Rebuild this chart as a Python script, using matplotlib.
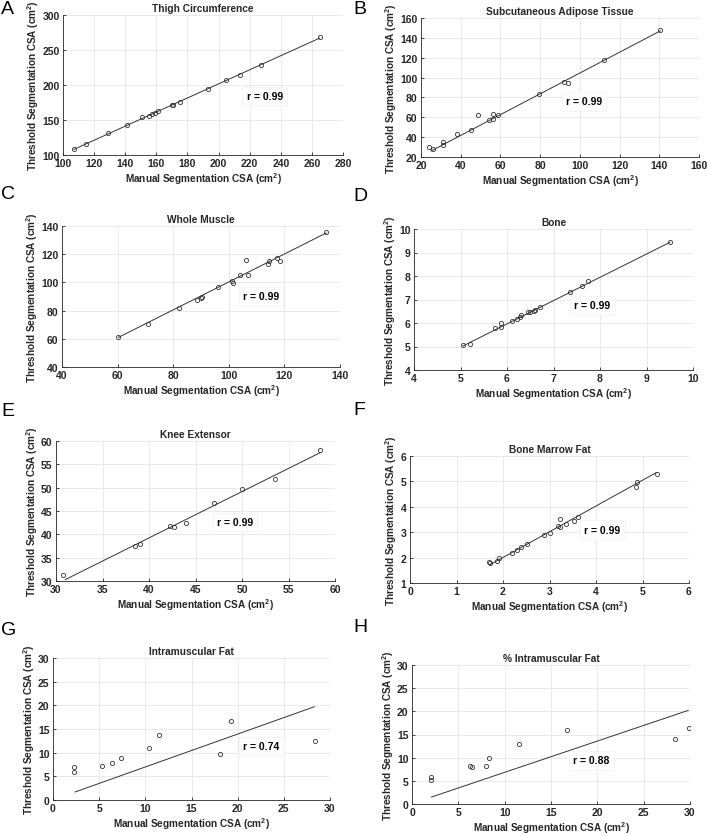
import numpy as np
import matplotlib
matplotlib.use('Agg')
from matplotlib import pyplot as plt

plt.rcParams['font.family'] = ['Liberation Sans', 'DejaVu Sans']
plt.rcParams['font.weight'] = 'bold'
plt.rcParams['mathtext.fontset'] = 'custom'
plt.rcParams['mathtext.rm'] = 'Liberation Sans:bold'
plt.rcParams['mathtext.bf'] = 'Liberation Sans:bold'

# ---- data ----
titles = ['Thigh Circumference', 'Subcutaneous Adipose Tissue', 'Whole Muscle', 'Bone',
          'Knee Extensor', 'Bone Marrow Fat', 'Intramuscular Fat', '% Intramuscular Fat']
letters = ['A', 'B', 'C', 'D', 'E', 'F', 'G', 'H']
r_labels = ['r = 0.99', 'r = 0.99', 'r = 0.99', 'r = 0.99', 'r = 0.99', 'r = 0.99', 'r = 0.74', 'r = 0.88']

thigh_x = [107, 115, 129, 141, 151, 155, 157, 159, 161, 170, 171, 175, 193, 205, 214, 227, 265]
thigh_y = [109, 116, 131, 143, 155, 156, 158, 160, 163, 171, 172, 176, 195, 207, 215, 229, 268]
thigh_fit_x = [107, 265]
thigh_fit_y = [108, 267]

sat_x = [24, 26, 31, 31, 38, 45, 48.5, 54, 56.5, 56.5, 59, 79.5, 92, 94, 112, 140.5]
sat_y = [30, 28, 32, 35, 43, 47, 62, 57, 58, 63, 62, 83, 96, 95, 118, 148]
sat_fit_x = [25, 140.5]
sat_fit_y = [26, 147]

wm_x = [60.3, 71, 82, 88.5, 90, 90.3, 96, 101, 101.5, 104, 106.2, 107, 114, 114.5, 117.5, 118.5, 135]
wm_y = [61.5, 70.5, 82, 87.5, 89, 90, 97, 101, 99.5, 105.5, 116, 105, 113, 115, 117, 115.5, 135.5]
wm_fit_x = [60.3, 135]
wm_fit_y = [61, 135]

bone_x = [5.05, 5.2, 5.75, 5.87, 5.88, 6.1, 6.22, 6.28, 6.3, 6.45, 6.5, 6.57, 6.6, 6.72, 7.35, 7.62, 7.75, 9.5]
bone_y = [5.07, 5.12, 5.77, 5.85, 5.98, 6.1, 6.18, 6.25, 6.33, 6.45, 6.47, 6.5, 6.57, 6.7, 7.3, 7.58, 7.78, 9.43]
bone_fit_x = [5.05, 9.5]
bone_fit_y = [5.02, 9.43]

knee_x = [30.8, 38.5, 39, 42.3, 42.7, 44, 47, 50, 53.6, 58.4]
knee_y = [31.2, 37.5, 38, 41.8, 41.5, 42.4, 46.8, 49.8, 51.9, 58.1]
knee_fit_x = [31, 58.4]
knee_fit_y = [30.3, 57.5]

bmf_x = [1.7, 1.72, 1.87, 1.92, 2.2, 2.3, 2.38, 2.52, 2.88, 3.02, 3.18, 3.22, 3.22, 3.35, 3.52, 3.62, 4.85, 4.88, 5.32]
bmf_y = [1.82, 1.77, 1.85, 1.98, 2.18, 2.3, 2.43, 2.55, 2.9, 2.98, 3.23, 3.52, 3.2, 3.33, 3.45, 3.6, 4.78, 4.97, 5.3]
bmf_fit_x = [1.72, 5.3]
bmf_fit_y = [1.72, 5.35]

imf_x = [2.3, 2.3, 5.3, 6.4, 7.4, 10.4, 11.5, 18.1, 19.3, 28.4]
imf_y = [6.9, 6.0, 7.2, 7.9, 8.9, 11.0, 13.7, 9.8, 16.7, 12.5]
imf_fit_x = [2.4, 28.3]
imf_fit_y = [1.7, 19.7]

pimf_x = [2.0, 2.1, 6.3, 6.5, 8.0, 8.3, 11.5, 16.7, 28.4, 29.9]
pimf_y = [5.9, 5.2, 8.3, 7.9, 8.2, 9.9, 13.0, 16.0, 14.0, 16.4]
pimf_fit_x = [2.1, 29.8]
pimf_fit_y = [1.5, 20.2]

xs = [thigh_x, sat_x, wm_x, bone_x, knee_x, bmf_x, imf_x, pimf_x]
ys = [thigh_y, sat_y, wm_y, bone_y, knee_y, bmf_y, imf_y, pimf_y]
fit_xs = [thigh_fit_x, sat_fit_x, wm_fit_x, bone_fit_x, knee_fit_x, bmf_fit_x, imf_fit_x, pimf_fit_x]
fit_ys = [thigh_fit_y, sat_fit_y, wm_fit_y, bone_fit_y, knee_fit_y, bmf_fit_y, imf_fit_y, pimf_fit_y]

xlims = [(100, 280), (20, 160), (40, 140), (4, 10), (30, 60), (0, 6), (0, 30), (0, 30)]
ylims = [(100, 300), (20, 160), (40, 140), (4, 10), (30, 60), (1, 6), (0, 30), (0, 30)]
xsteps = [20, 20, 20, 1, 5, 1, 5, 5]
ysteps = [50, 20, 20, 1, 5, 1, 5, 5]
r_pos = [(218, 184), (93, 76), (105, 90), (7.45, 6.75), (47.3, 42.6), (3.75, 3.1), (20.6, 11.4), (17.4, 9.4)]

# axes boxes in pixels: left, top, right, bottom
boxes = [(63, 16, 343, 156), (421, 19, 699, 158),
         (62, 227, 340, 368), (414, 230, 693, 371),
         (56, 442, 335, 582), (410, 457, 689, 584),
         (53, 659, 330, 801), (412, 666, 690, 805)]
letter_pos = [(1, 1), (353, 1), (1, 186), (353, 188), (1, 403), (353, 402), (1, 622), (353, 619)]

W, H = 707, 837
fig = plt.figure(figsize=(W / 100, H / 100), dpi=100)

dark = '#262626'
for i in range(8):
    l, t, r, b = boxes[i]
    ax = fig.add_axes([l / W, 1 - b / H, (r - l) / W, (b - t) / H])
    ax.plot(fit_xs[i], fit_ys[i], '-', color='#333333', lw=0.7)
    ax.plot(xs[i], ys[i], 'o', mfc='none', mec='#333333', ms=3, mew=0.6)
    ax.set_xlim(xlims[i])
    ax.set_ylim(ylims[i])
    ax.set_xticks(np.arange(xlims[i][0], xlims[i][1] + xsteps[i] / 2, xsteps[i]))
    ax.set_yticks(np.arange(ylims[i][0], ylims[i][1] + ysteps[i] / 2, ysteps[i]))
    ax.grid(True, color='#e6e6e6', lw=0.6)
    ax.set_axisbelow(True)
    for s in ['top', 'right']:
        ax.spines[s].set_visible(False)
    for s in ['left', 'bottom']:
        ax.spines[s].set_color(dark)
        ax.spines[s].set_linewidth(0.6)
    ax.tick_params(direction='in', length=2, width=0.6, colors=dark, labelsize=7.5)
    ax.tick_params(axis='x', pad=2.5)
    ax.tick_params(axis='y', pad=2.5)
    ax.set_title(titles[i], fontsize=7.3, fontweight='bold', color=dark, pad=3)
    ax.set_xlabel(r'Manual Segmentation CSA (cm$^{2}$)', fontsize=7.2, fontweight='bold',
                  color=dark, labelpad=1)
    ax.set_ylabel(r'Threshold Segmentation CSA (cm$^{2}$)', fontsize=7.2, fontweight='bold',
                  color=dark, labelpad=1)
    ax.text(r_pos[i][0], r_pos[i][1], r_labels[i], fontsize=7.5, fontweight='bold', color='black',
            va='center', ha='left',
            bbox=dict(facecolor='white', edgecolor='#f0f0f0', lw=0.5, pad=3))
    fig.text(letter_pos[i][0] / W, 1 - letter_pos[i][1] / H, letters[i], fontsize=14,
             fontweight='normal', ha='left', va='top', color='black')

fig.savefig('out.png', dpi=100)
